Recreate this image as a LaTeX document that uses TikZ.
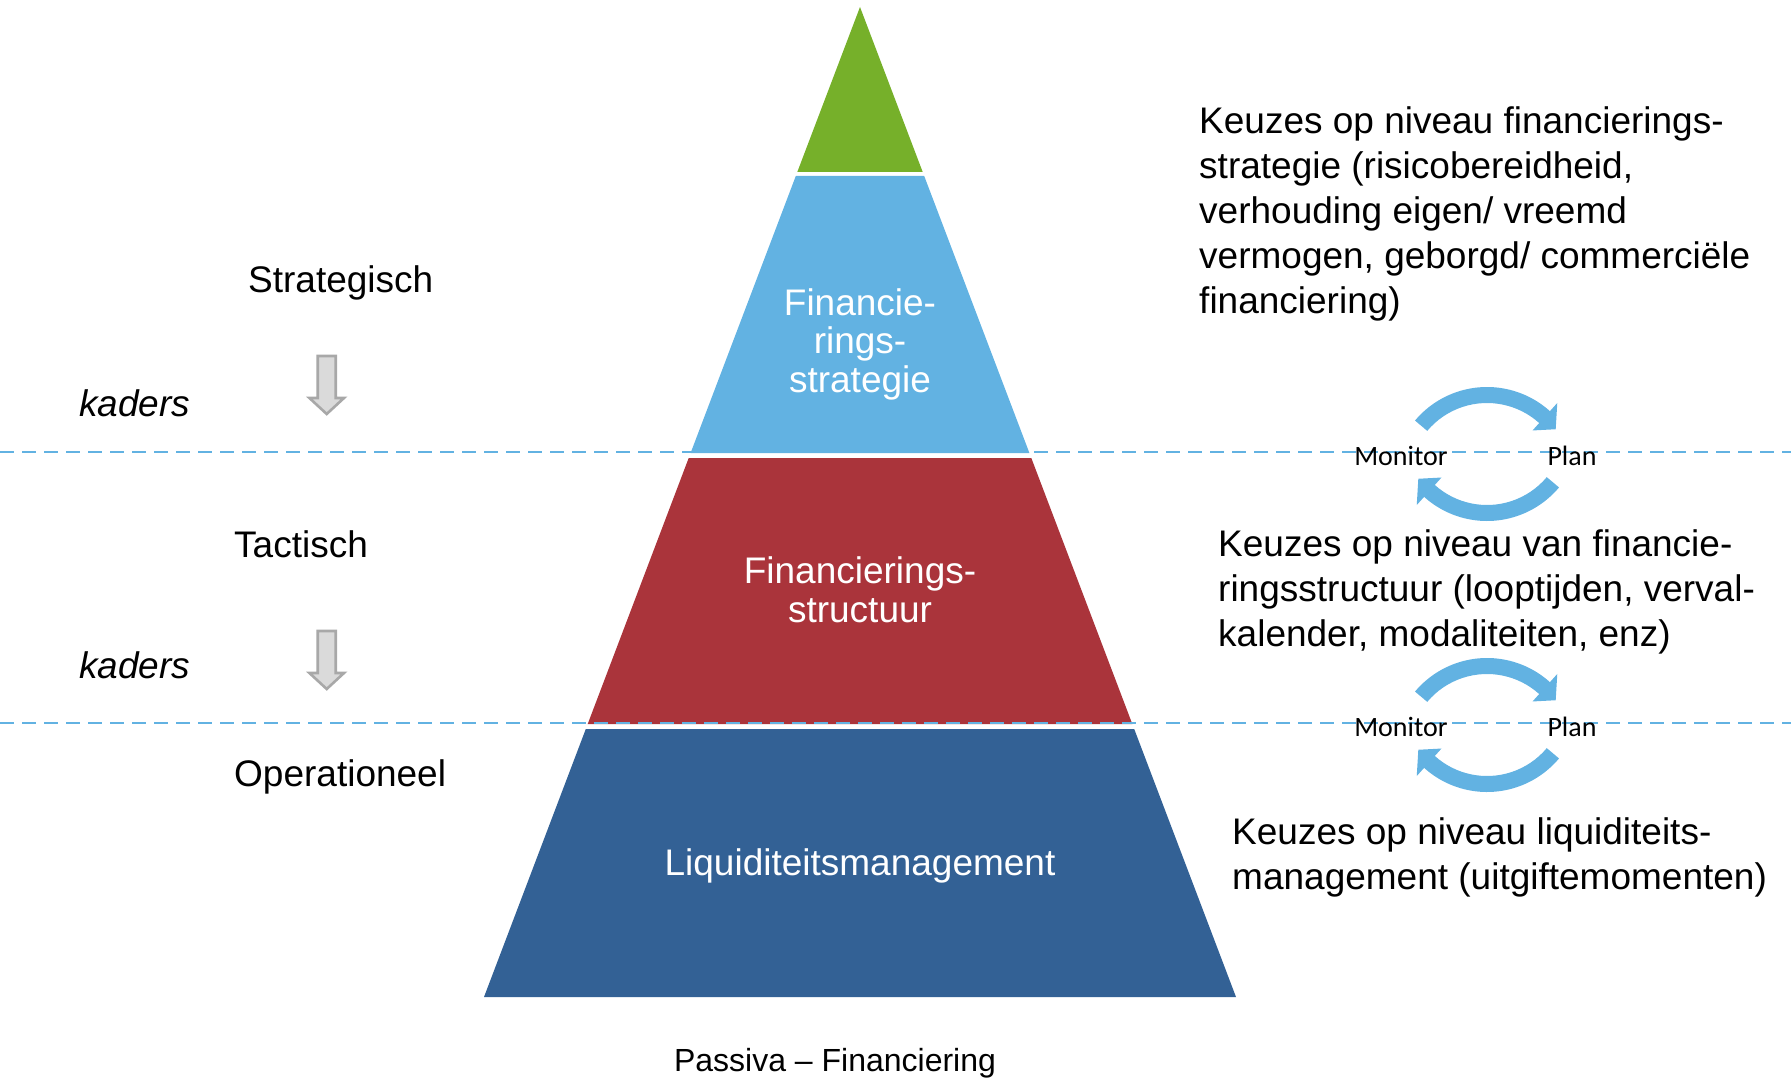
\documentclass[tikz,border=0pt]{standalone}
\usepackage{fontspec}
\setmainfont{Liberation Sans}
\newfontfamily\calib{Carlito}
\usetikzlibrary{calc}
\definecolor{pgreen}{HTML}{76B02A}
\definecolor{pblue}{HTML}{62B2E2}
\definecolor{pred}{HTML}{AA343B}
\definecolor{pdark}{HTML}{336195}
\definecolor{agray}{HTML}{DADADA}
\definecolor{agrayd}{HTML}{A8A8A8}
\begin{document}
\begin{tikzpicture}[x=1pt,y=-1pt,
  lbl/.style={font=\fontsize{37}{45}\selectfont, anchor=base west, inner sep=0pt, align=left},
  plbl/.style={font=\fontsize{37}{38.5}\selectfont, text=white, anchor=base, inner sep=0pt, align=center},
  cyc/.style={font=\calib\fontsize{28}{30}\selectfont, anchor=base, inner sep=0pt},
  hollow/.style={fill=agray, draw=agrayd, line width=2.6pt, line join=miter},
  sep/.style={draw=pblue, line width=2.7pt, dash pattern=on 14pt off 8pt},
  cycarrow/.style={fill=pblue}]
\useasboundingbox (0,0) rectangle (1791,1078);

% pyramid bands
\coordinate (apex) at (860,7);
\coordinate (bl) at (484,997);
\coordinate (br) at (1236,997);
\fill[pgreen] (apex) -- (797.3,172) -- (922.7,172) -- cycle;
\fill[pblue] (795.8,176) -- (924.2,176) -- (1029.4,453) -- (690.6,453) -- cycle;
\fill[pred] (688.7,458) -- (1031.3,458) -- (1132.3,724) -- (587.7,724) -- cycle;
\fill[pdark] (585.8,729) -- (1134.2,729) -- (br) -- (bl) -- cycle;

% separators
\coordinate (s1l) at (0,452); \coordinate (s1r) at (1791,452);
\coordinate (s2l) at (0,723); \coordinate (s2r) at (1791,723);
\draw[sep] (s1l) -- (s1r);
\draw[sep] (s2l) -- (s2r);

% pyramid labels (base = last line)
\node[plbl] (strat) at (860,392) {Financie-\\rings-\\strategie};
\node[plbl] (struct) at (860,622) {Financierings-\\structuur};
\node[plbl] (liq) at (860,875) {Liquiditeitsmanagement};
\node[font=\fontsize{32}{36}\selectfont, anchor=base, inner sep=0pt] (passiva) at (835,1071) {Passiva -- Financiering};

% left labels
\node[lbl] (lstrat) at (248,292) {Strategisch};
\node[lbl, font=\fontsize{37}{45}\selectfont\itshape] (k1) at (79,416) {kaders};
\node[lbl] (ltact) at (234,557) {Tactisch};
\node[lbl, font=\fontsize{37}{45}\selectfont\itshape] (k2) at (79,678) {kaders};
\node[lbl] (lop) at (234,786) {Operationeel};

% hollow arrows
\draw[hollow] (317.7,356) -- (335.7,356) -- (335.7,398) -- (344,398) -- (326.7,414) -- (309.4,398) -- (317.7,398) -- cycle;
\draw[hollow] (317.7,631) -- (335.7,631) -- (335.7,673) -- (344,673) -- (326.7,689) -- (309.4,673) -- (317.7,673) -- cycle;

% right texts (base = last line)
\node[lbl] (r1) at (1199,313) {Keuzes op niveau financierings-\\strategie (risicobereidheid,\\verhouding eigen/ vreemd\\vermogen, geborgd/ commerciële\\financiering)};
\node[lbl] (r2) at (1218,646) {Keuzes op niveau van financie-\\ringsstructuur (looptijden, verval-\\kalender, modaliteiten, enz)};
\node[lbl] (r3) at (1232,889) {Keuzes op niveau liquiditeits-\\management (uitgiftemomenten)};

% cycle 1
\begin{scope}[shift={(1487,481)}]
\fill[cycarrow] (-140:94) arc[start angle=-140,end angle=-48,radius=94] -- (-48:105) -- (-37:86) -- (-48:68) -- (-48:78) arc[start angle=-48,end angle=-140,radius=78] -- cycle;
\end{scope}
\begin{scope}[shift={(1487,427)}]
\fill[cycarrow] (40:94) arc[start angle=40,end angle=132,radius=94] -- (132:105) -- (143:86) -- (132:68) -- (132:78) arc[start angle=132,end angle=40,radius=78] -- cycle;
\end{scope}
\node[cyc] (mon1) at (1401,465) {Monitor};
\node[cyc] (plan1) at (1572,465) {Plan};

% cycle 2
\begin{scope}[shift={(1487,752)}]
\fill[cycarrow] (-140:94) arc[start angle=-140,end angle=-48,radius=94] -- (-48:105) -- (-37:86) -- (-48:68) -- (-48:78) arc[start angle=-48,end angle=-140,radius=78] -- cycle;
\end{scope}
\begin{scope}[shift={(1487,698)}]
\fill[cycarrow] (40:94) arc[start angle=40,end angle=132,radius=94] -- (132:105) -- (143:86) -- (132:68) -- (132:78) arc[start angle=132,end angle=40,radius=78] -- cycle;
\end{scope}
\node[cyc] (mon2) at (1401,736) {Monitor};
\node[cyc] (plan2) at (1572,736) {Plan};
\end{tikzpicture}
\end{document}
